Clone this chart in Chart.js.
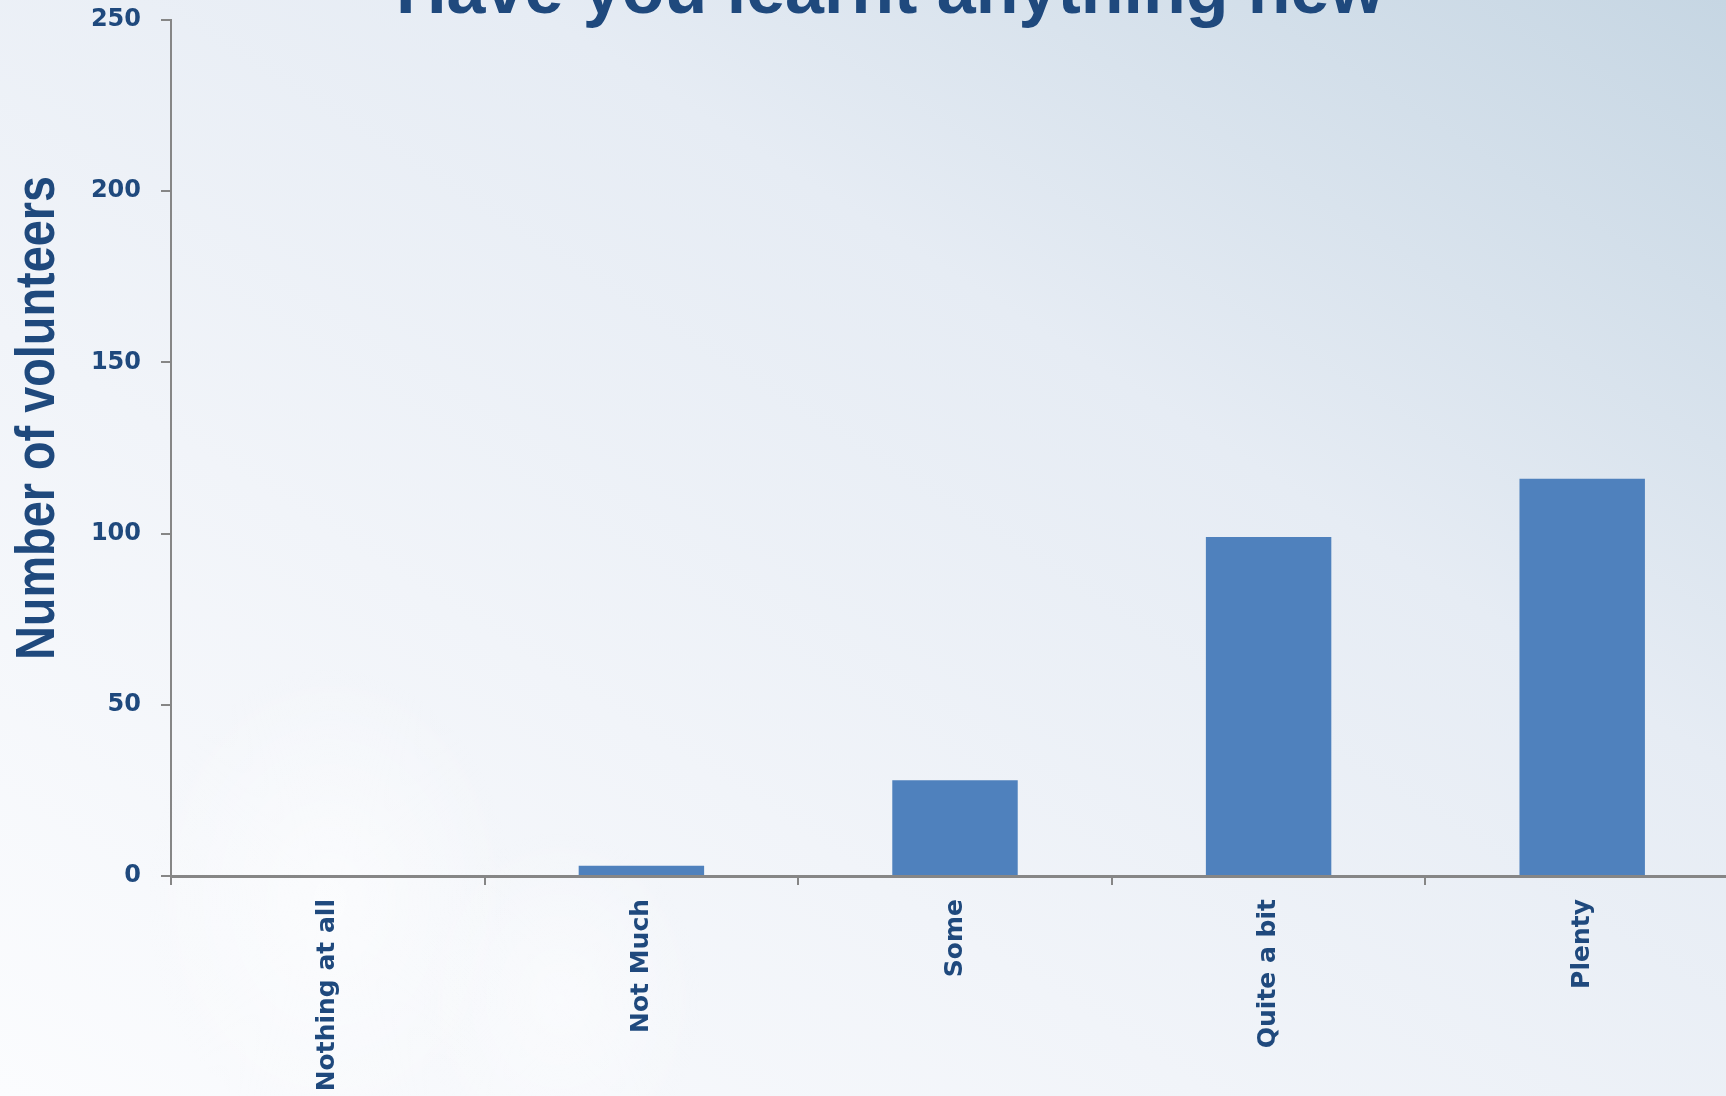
<!DOCTYPE html>
<html>
<head>
<meta charset="utf-8">
<title>Have you learnt anything new</title>
<script src="https://cdn.jsdelivr.net/npm/chart.js@4.4.1/dist/chart.umd.min.js"></script>
<style>
  html, body { margin: 0; padding: 0; overflow: hidden; }
  body {
    width: 1726px; height: 1096px;
    background:
      radial-gradient(ellipse 260px 330px at 330px 900px, rgba(255,255,255,0.55), rgba(255,255,255,0) 70%),
      radial-gradient(ellipse 200px 240px at 560px 1000px, rgba(255,255,255,0.45), rgba(255,255,255,0) 70%),
      linear-gradient(to top right, #fbfcfe 0%, #f1f4f9 35%, #e6ecf4 65%, #c6d6e3 100%);
  }
  #wrap { position: absolute; left: 0; top: 0; width: 1739px; height: 1096px; }
</style>
</head>
<body>
<div id="wrap"><canvas id="chart"></canvas></div>
<script>
  const categories = ['Nothing at all', 'Not Much', 'Some', 'Quite a bit', 'Plenty'];
  const volunteers = [0, 3, 28, 99, 116];
  const yTicks = { min: 0, max: 250, step: 50 };
  const chartTitle = 'Have you learnt anything new';
  const yTitle = 'Number of volunteers';

  const navy = '#1F497D';
  const axisGrey = '#868686';

  // titles are drawn by hand so they can sit outside the plot layout
  const titles = {
    id: 'titles',
    afterDraw(chart) {
      const { ctx } = chart;
      ctx.save();
      ctx.fillStyle = navy;
      ctx.font = 'bold 70px "Liberation Sans", Arial, sans-serif';
      ctx.textAlign = 'center';
      ctx.textBaseline = 'alphabetic';
      ctx.fillText(chartTitle, 890, 13);

      // vertical axis title, squeezed a bit along its length
      ctx.font = 'bold 55px "Liberation Sans", Arial, sans-serif';
      const w = ctx.measureText(yTitle).width;
      const sx = 484 / w;
      ctx.translate(54, 418);
      ctx.rotate(-Math.PI / 2);
      ctx.scale(sx, 1);
      ctx.fillText(yTitle, 0, 0);
      ctx.restore();
    }
  };

  new Chart(document.getElementById('chart'), {
    type: 'bar',
    data: {
      labels: categories,
      datasets: [{
        data: volunteers,
        backgroundColor: '#4F81BD',
        borderWidth: 0,
        barPercentage: 0.4,
        categoryPercentage: 1
      }]
    },
    options: {
      responsive: true,
      maintainAspectRatio: false,
      animation: false,
      layout: { padding: { top: 20, left: 0, right: 0, bottom: 0 } },
      plugins: { legend: { display: false }, tooltip: { enabled: false }, title: { display: false } },
      scales: {
        x: {
          grid: { display: true, drawOnChartArea: false, drawTicks: true, tickLength: 9, color: axisGrey, lineWidth: 2, offset: true },
          border: { display: true, color: axisGrey, width: 3 },
          ticks: {
            color: navy,
            font: { family: '"DejaVu Sans", sans-serif', size: 25, weight: 'bold' },
            minRotation: 90, maxRotation: 90,
            padding: 14
          },
          afterFit(scale) { scale.height = 220; }
        },
        y: {
          min: yTicks.min, max: yTicks.max,
          grid: { display: true, drawOnChartArea: false, drawTicks: true, tickLength: 10, color: axisGrey, lineWidth: 2 },
          border: { display: true, color: axisGrey, width: 2 },
          ticks: {
            stepSize: yTicks.step,
            color: navy,
            font: { family: '"DejaVu Sans", sans-serif', size: 24, weight: 'bold' },
            padding: 20
          },
          afterFit(scale) {
            scale.width = 171;
            scale.paddingTop = 0;
            scale.paddingBottom = 0;
          }
        }
      }
    },
    plugins: [titles]
  });
</script>
</body>
</html>
